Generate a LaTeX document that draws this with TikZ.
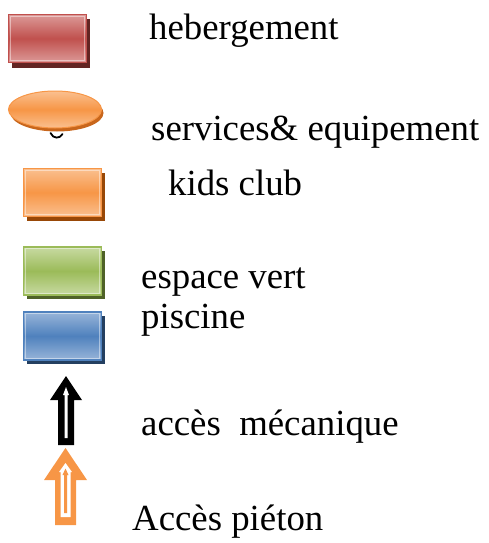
\documentclass[tikz,border=0pt]{standalone}
\usepackage{fontspec}
\setmainfont{Liberation Serif}
\usetikzlibrary{shapes.geometric,shadows}
\definecolor{redB}{HTML}{C0504D}\definecolor{redL}{HTML}{DC9A98}\definecolor{redS}{HTML}{632523}
\definecolor{orB}{HTML}{F79646}\definecolor{orL}{HTML}{FAC090}\definecolor{orS}{HTML}{984807}
\definecolor{orE}{HTML}{C8661C}
\definecolor{grB}{HTML}{9BBB59}\definecolor{grL}{HTML}{C8DAA2}\definecolor{grS}{HTML}{4F6228}
\definecolor{blB}{HTML}{4F81BD}\definecolor{blL}{HTML}{98B5D9}\definecolor{blS}{HTML}{243F60}
\begin{document}
\begin{tikzpicture}[x=1pt,y=-1pt,
  legbox/.style={rectangle,inner sep=0pt,minimum width=78pt,minimum height=48pt,line width=1.4pt},
  innerhl/.style={line width=0.9pt,draw=white,draw opacity=0.45},
  lbl/.style={anchor=base west,inner sep=0pt,font=\fontsize{36.8}{42}\selectfont},
  ]
\useasboundingbox (0,0) rectangle (488,543);
% boxes
\node[legbox,draw=redB,top color=redL,bottom color=redL,middle color=redB,
  drop shadow={shadow xshift=3pt,shadow yshift=-5pt,fill=redS,opacity=1}] (hb) at (47.5,38.5) {};
\node[ellipse,inner sep=0pt,minimum width=93pt,minimum height=37pt,line width=1pt,draw=orB,
  top color=orL,bottom color=orL,middle color=orB,
  drop shadow={shadow xshift=2pt,shadow yshift=-3.5pt,fill=orE,opacity=1}] (se) at (55,109.5) {};
\draw[line width=1.8pt,line cap=round] (50.5,133) .. controls (53,139) and (60,139) .. (62.5,134);
\node[legbox,draw=orB,top color=orL,bottom color=orL,middle color=orB,
  drop shadow={shadow xshift=3pt,shadow yshift=-4pt,fill=orS,opacity=1}] (kc) at (62.5,192.5) {};
\node[legbox,draw=grB,top color=grL,bottom color=grL,middle color=grB,
  drop shadow={shadow xshift=3pt,shadow yshift=-4pt,fill=grS,opacity=1}] (ev) at (62.5,271) {};
\node[legbox,draw=blB,top color=blL,bottom color=blL,middle color=blB,
  drop shadow={shadow xshift=3pt,shadow yshift=-4pt,fill=blS,opacity=1}] (pi) at (62.5,336) {};
\foreach \b in {hb,kc,ev,pi}{
  \draw[innerhl] ([shift={(2.6,2.6)}]\b.north west) rectangle ([shift={(-2.6,-2.6)}]\b.south east);
}
% black arrow
\fill[black] (58,445) -- (58,400) -- (50,400) -- (66,376) -- (82,400) -- (74,400) -- (74,445) -- cycle;
\fill[white] (64.5,438) -- (64.5,395) -- (63,395) -- (66,387) -- (69,395) -- (67.5,395) -- (67.5,438) -- cycle;
% orange arrow
\fill[orB] (55,525) -- (55,480) -- (44,480) -- (65.5,448) -- (87,480) -- (76,480) -- (76,525) -- cycle;
\fill[white] (60.5,517) -- (60.5,472) -- (59,472) -- (65.5,463) -- (72,472) -- (70.5,472) -- (70.5,517) -- cycle;
\fill[orB] (64,513) -- (64,475) -- (62.5,475) -- (65.5,468.5) -- (68.5,475) -- (67,475) -- (67,513) -- cycle;
% labels
\node[lbl] (t1) at (149,40) {hebergement};
\node[lbl] (t2) at (151,140) {services\& equipement};
\node[lbl] (t3) at (168,195) {kids club};
\node[lbl] (t4) at (141,288) {espace vert};
\node[lbl] (t5) at (141,328) {piscine};
\node[lbl] (t6) at (141,435) {accès\ \ mécanique};
\node[lbl] (t7) at (132,530) {Accès piéton};
\end{tikzpicture}
\end{document}
